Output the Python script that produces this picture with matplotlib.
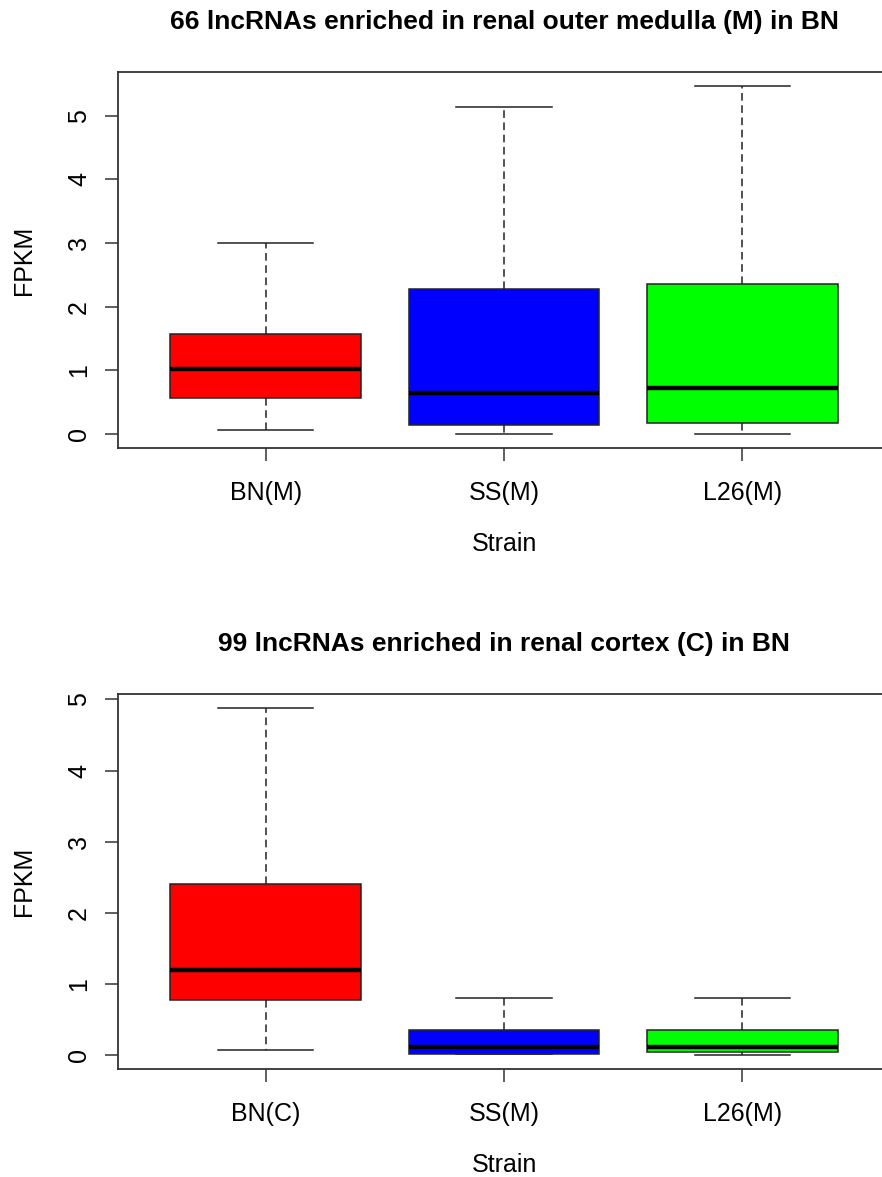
import matplotlib
matplotlib.use('Agg')
import matplotlib.pyplot as plt

plt.rcParams['font.family'] = ['Liberation Sans', 'DejaVu Sans']

# panel 1: medulla-enriched lncRNAs
labels_m = ['BN(M)', 'SS(M)', 'L26(M)']
whislo_m = [0.06, 0.0, 0.0]
q1_m = [0.57, 0.14, 0.17]
med_m = [1.03, 0.64, 0.72]
q3_m = [1.57, 2.28, 2.36]
whishi_m = [3.0, 5.14, 5.47]

# panel 2: cortex-enriched lncRNAs
labels_c = ['BN(C)', 'SS(M)', 'L26(M)']
whislo_c = [0.07, 0.01, 0.0]
q1_c = [0.77, 0.02, 0.05]
med_c = [1.19, 0.12, 0.12]
q3_c = [2.41, 0.35, 0.35]
whishi_c = [4.88, 0.80, 0.80]

colors = ['#ff0000', '#0000ff', '#00ff00']
titles = ['66 lncRNAs enriched in renal outer medulla (M) in BN',
          '99 lncRNAs enriched in renal cortex (C) in BN']

fig = plt.figure(figsize=(8.82, 11.77), dpi=100)
W, H = 882, 1177
panels = [
    (labels_m, whislo_m, q1_m, med_m, q3_m, whishi_m, 72, 448),
    (labels_c, whislo_c, q1_c, med_c, q3_c, whishi_c, 694, 1069),
]

for k, (labs, lo, q1, med, q3, hi, top, bot) in enumerate(panels):
    ax = fig.add_axes([118 / W, (H - bot) / H, 772 / W, (bot - top) / H])
    stats = [dict(label=l, whislo=a, q1=b, med=c, q3=d, whishi=e, fliers=[])
             for l, a, b, c, d, e in zip(labs, lo, q1, med, q3, hi)]
    bp = ax.bxp(stats, positions=[1, 2, 3], widths=0.8, patch_artist=True,
                boxprops=dict(edgecolor='#222222', linewidth=1.1),
                medianprops=dict(color='black', linewidth=3.2, solid_capstyle='butt'),
                whiskerprops=dict(color='#222222', linewidth=1.1, linestyle=(0, (5, 3))),
                capprops=dict(color='#222222', linewidth=1.1), capwidths=0.4)
    for patch, c in zip(bp['boxes'], colors):
        patch.set_facecolor(c)
    ymax = max(hi)
    ext = 0.04 * ymax
    ax.set_ylim(-ext, ymax + ext)
    ax.set_xlim(0.38, 3.62)
    ax.set_yticks(range(0, int(ymax + ext) + 1))
    ax.set_xticks([1, 2, 3])
    ax.set_xticklabels(labs)
    ax.tick_params(axis='both', labelsize=18, length=9.5, width=1.1, color='#333333')
    ax.tick_params(axis='y', pad=10, labelrotation=90)
    ax.tick_params(axis='x', pad=14)
    for lab in ax.get_yticklabels():
        lab.set_verticalalignment('center')
    for s in ax.spines.values():
        s.set_linewidth(1.3)
        s.set_color('#333333')
    ax.set_ylabel('FPKM', fontsize=18, labelpad=22)
    ax.set_xlabel('Strain', fontsize=18, labelpad=20)
    ax.set_title(titles[k], fontsize=19, fontweight='bold', pad=31)

fig.savefig('out.png', dpi=100)
